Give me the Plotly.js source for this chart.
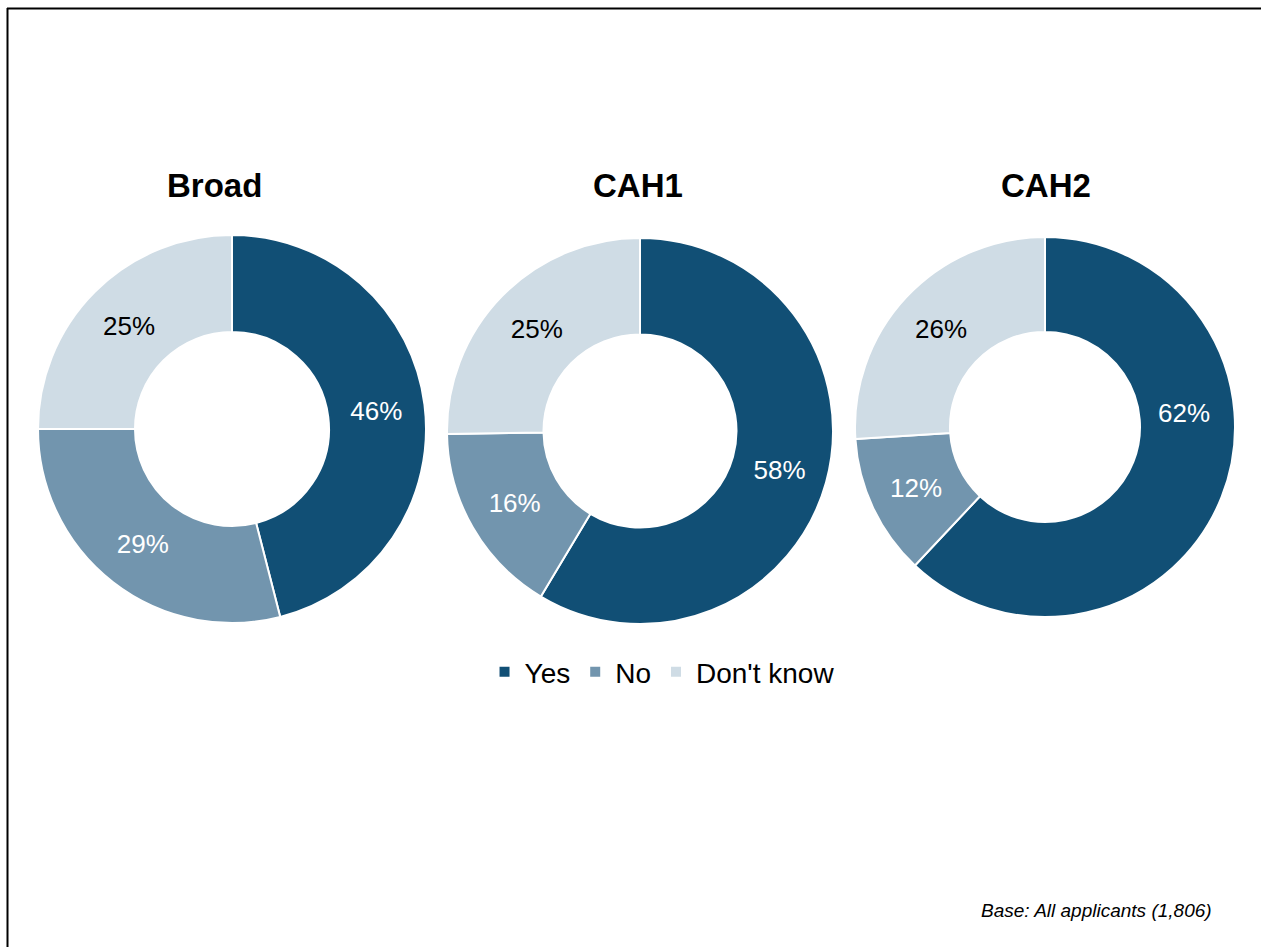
<!DOCTYPE html>
<html><head><meta charset="utf-8">
<script src="https://cdn.plot.ly/plotly-3.0.1.min.js"></script>
<style>html,body{margin:0;padding:0;background:#fff;}#chart{width:1261px;height:947px;}</style>
</head><body><div id="chart"></div>
<script>
const categories = ["Yes", "No", "Don't know"];
const groupTitles = ["Broad", "CAH1", "CAH2"];
const broadValues = [46, 29, 25];
const cah1Values = [58, 16, 25];
const cah2Values = [62, 12, 26];
const colors = ["#114f75", "#7295ae", "#cfdce5"];
const textColors = ["#ffffff", "#ffffff", "#000000"];
const footnote = "Base: All applicants (1,806)";

const W = 1261, H = 947;
const FONT = 'Liberation Sans, Arial, sans-serif';
// pie geometry in pixels (center x, center y, radius)
const geo = [[232, 429, 194], [640, 431, 193], [1045, 427, 190]];
const allValues = [broadValues, cah1Values, cah2Values];

function dom(g){
  const [cx, cy, r] = g;
  return {x:[(cx-r)/W, (cx+r)/W], y:[1-(cy+r)/H, 1-(cy-r)/H]};
}

const data = allValues.map((vals, i) => ({
  type: 'pie',
  labels: categories,
  values: vals,
  sort: false,
  direction: 'clockwise',
  rotation: 0,
  hole: 0.5,
  domain: dom(geo[i]),
  marker: {colors: colors, line: {color: '#ffffff', width: 2}},
  texttemplate: '%{value}%',
  // the CAH2 "Yes" label sits higher in the original, drawn as an annotation below
  textposition: i === 2 ? ['none', 'inside', 'inside'] : 'inside',
  insidetextorientation: 'horizontal',
  insidetextfont: {family: FONT, size: 26, color: textColors},
  showlegend: i === 0,
  hoverinfo: 'label+value'
}));

const annotations = groupTitles.map((t, i) => ({
  text: '<b>' + t + '</b>',
  x: [214.5, 638, 1046][i] / W, y: 1 - 185 / H,
  xref: 'paper', yref: 'paper', xanchor: 'center', yanchor: 'middle',
  showarrow: false,
  font: {family: FONT, size: 33, color: '#000'}
}));
annotations.push({
  text: cah2Values[0] + '%',
  x: 1184 / W, y: 1 - 413 / H, xref: 'paper', yref: 'paper',
  xanchor: 'center', yanchor: 'middle', showarrow: false,
  font: {family: FONT, size: 26, color: textColors[0]}
});
annotations.push({
  text: '<i>' + footnote + '</i>',
  x: 1214 / W, y: 1 - 910 / H, xref: 'paper', yref: 'paper',
  xanchor: 'right', yanchor: 'middle', showarrow: false,
  font: {family: FONT, size: 19, color: '#000'}
});

const layout = {
  width: W, height: H,
  margin: {l: 0, r: 0, t: 0, b: 0},
  paper_bgcolor: '#ffffff',
  font: {family: FONT, color: '#000'},
  showlegend: true,
  legend: {
    orientation: 'h', x: 0.525, xanchor: 'center', y: 1 - 672 / H, yanchor: 'middle',
    font: {size: 28, color: '#000'}, traceorder: 'normal', itemclick: false
  },
  annotations: annotations,
  shapes: [
    {type: 'line', xref: 'paper', yref: 'paper', x0: 7 / W, x1: 1.01, y0: 1 - 8.5 / H, y1: 1 - 8.5 / H, line: {color: '#000', width: 2}},
    {type: 'line', xref: 'paper', yref: 'paper', x0: 7.5 / W, x1: 7.5 / W, y0: -0.01, y1: 1 - 8 / H, line: {color: '#000', width: 2}}
  ]
};

Plotly.newPlot('chart', data, layout, {displayModeBar: false, staticPlot: true});
</script>
</body></html>
